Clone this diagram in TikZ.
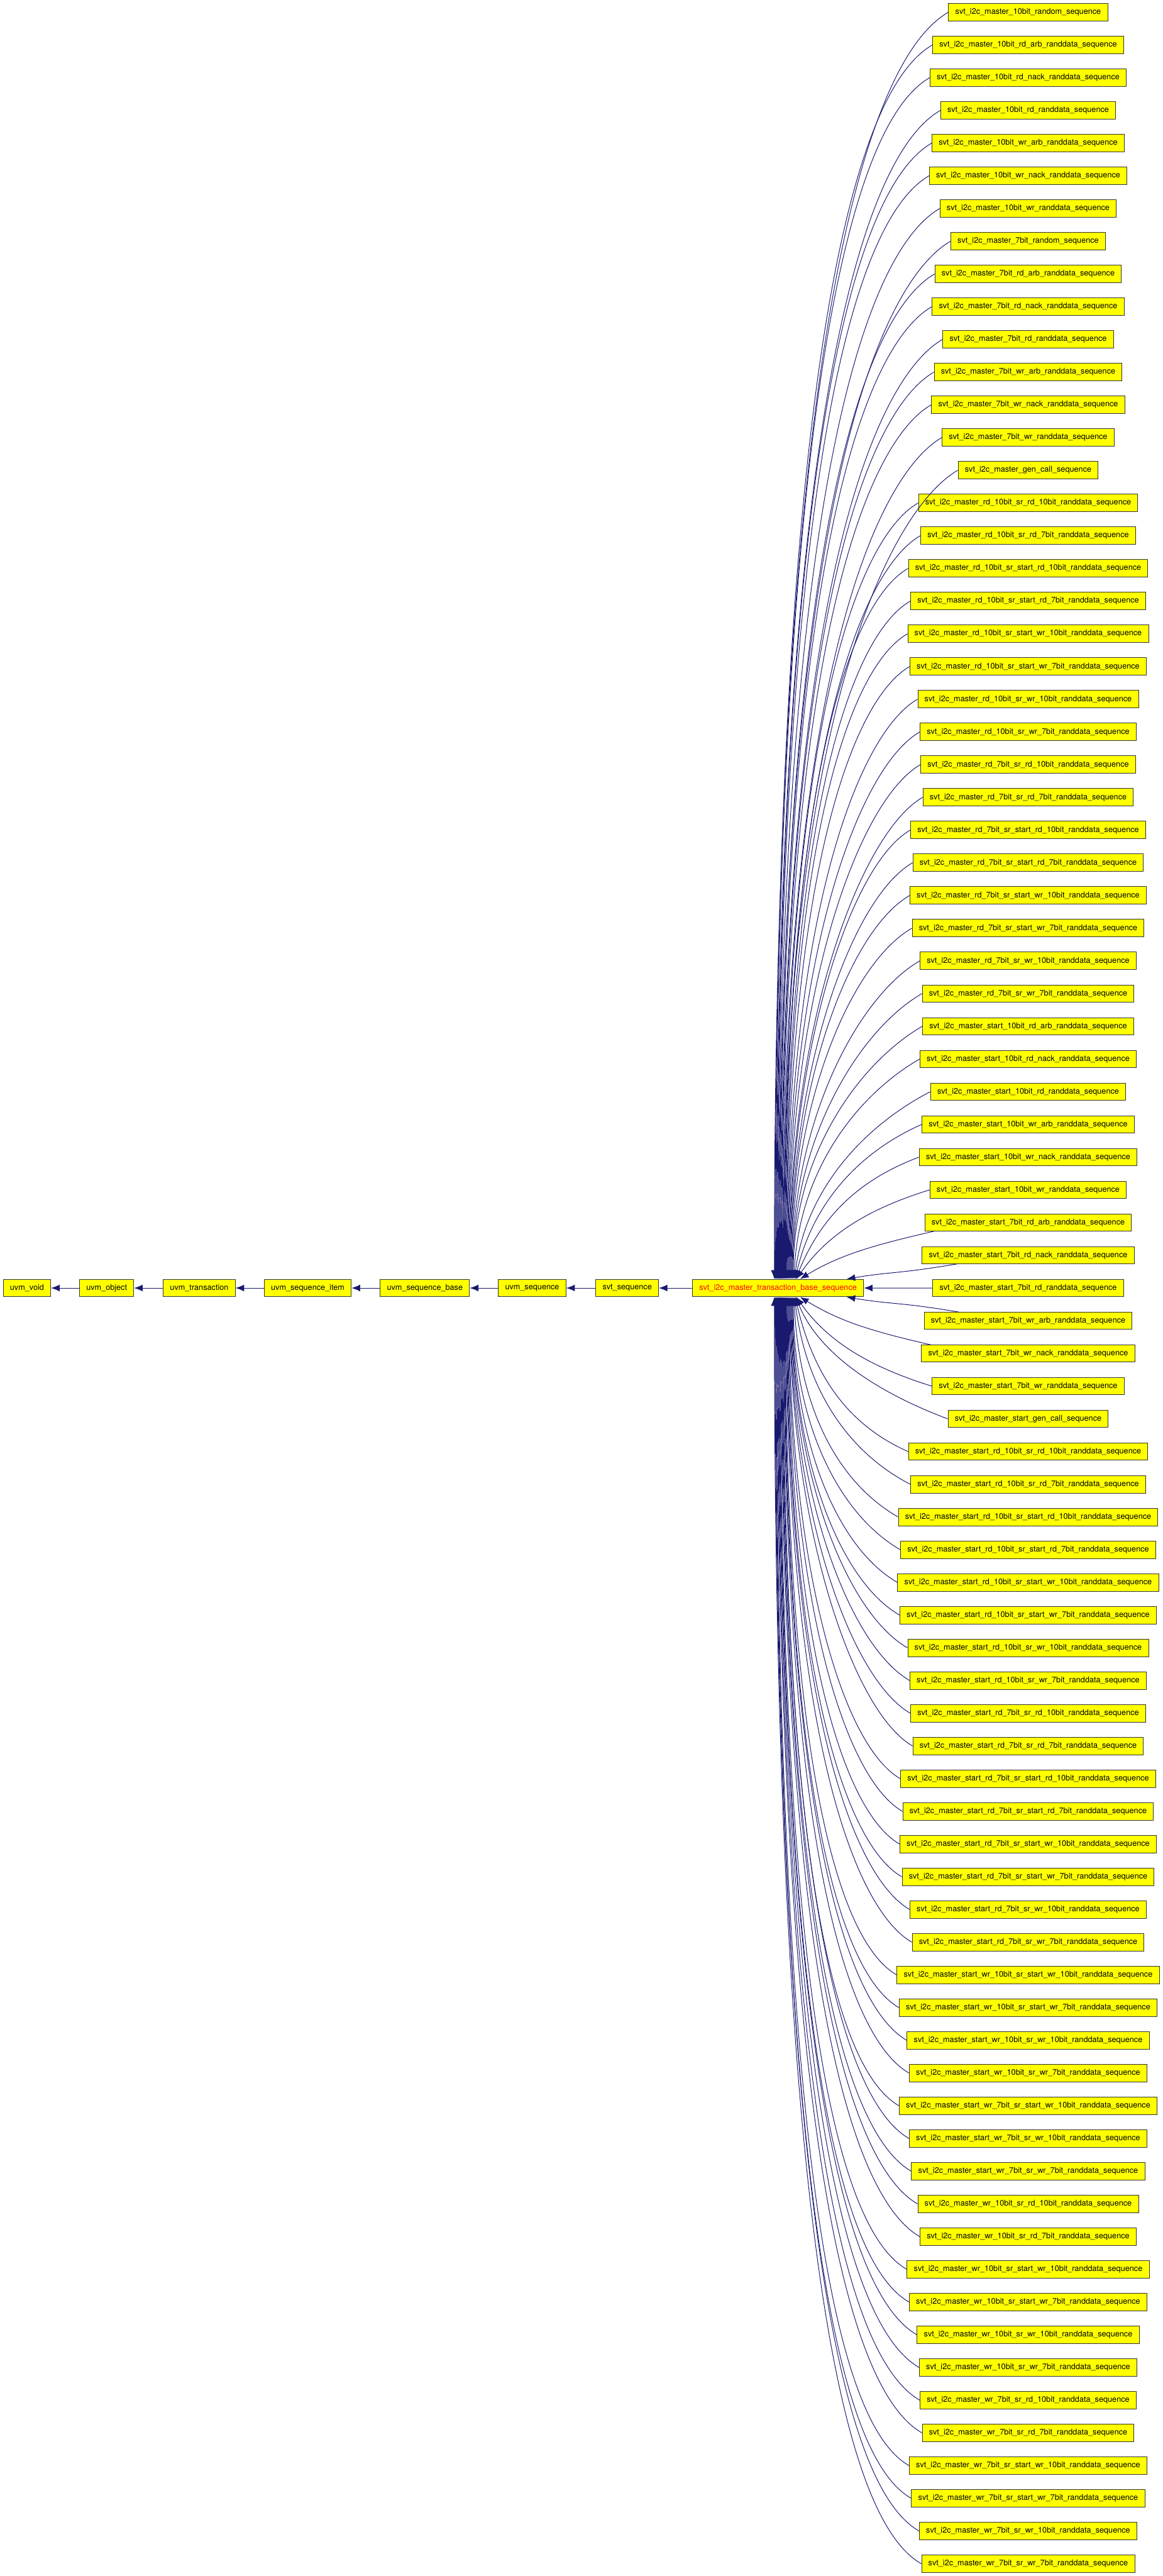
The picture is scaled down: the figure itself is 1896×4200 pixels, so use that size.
\documentclass[tikz,border=0pt]{standalone}
\usepackage{fontspec}
\setmainfont{TeX Gyre Heros}
\usetikzlibrary{arrows.meta,calc,positioning}

\definecolor{clsfill}{HTML}{FFFF00}
\definecolor{inhblue}{HTML}{191970}

\tikzset{
  cls/.style={draw=black!80, fill=clsfill, line width=1pt, inner xsep=11pt, inner ysep=0pt,
    minimum height=28.5pt, font=\fontsize{13}{15}\selectfont},
  inh/.style={draw=inhblue, line width=1pt, -{Latex[length=14pt,width=11pt]}},
}

\begin{document}
\begin{tikzpicture}[x=1pt,y=1pt]
  \useasboundingbox (0,0) rectangle (1896,-4200);

  % base chain, parents on the left
  \node[cls] (uvoid)   at (44,-2100)   {uvm\_void};
  \node[cls] (uobject) at (174,-2100)  {uvm\_object};
  \node[cls] (utrans)  at (325,-2100)  {uvm\_transaction};
  \node[cls] (uitem)   at (502,-2100)  {uvm\_sequence\_item};
  \node[cls] (ubase)   at (693,-2100)  {uvm\_sequence\_base};
  \node[cls] (useq)    at (868,-2100)  {uvm\_sequence};
  \node[cls] (svtseq)  at (1023,-2100) {svt\_sequence};
  \node[cls,text=red] (base) at (1269,-2100) {svt\_i2c\_master\_transaction\_base\_sequence};

  \draw[inh] (uobject) -- (uvoid);
  \draw[inh] (utrans) -- (uobject);
  \draw[inh] (uitem) -- (utrans);
  \draw[inh] (ubase) -- (uitem);
  \draw[inh] (useq) -- (ubase);
  \draw[inh] (svtseq) -- (useq);
  \draw[inh] (base) -- (svtseq);

  % derived sequences: one row every 53.333, row 40 level with base
  \foreach \nm [count=\i] in {10bit\_random\_sequence,
      10bit\_rd\_arb\_randdata\_sequence,
      10bit\_rd\_nack\_randdata\_sequence,
      10bit\_rd\_randdata\_sequence,
      10bit\_wr\_arb\_randdata\_sequence,
      10bit\_wr\_nack\_randdata\_sequence,
      10bit\_wr\_randdata\_sequence,
      7bit\_random\_sequence,
      7bit\_rd\_arb\_randdata\_sequence,
      7bit\_rd\_nack\_randdata\_sequence,
      7bit\_rd\_randdata\_sequence,
      7bit\_wr\_arb\_randdata\_sequence,
      7bit\_wr\_nack\_randdata\_sequence,
      7bit\_wr\_randdata\_sequence,
      gen\_call\_sequence,
      rd\_10bit\_sr\_rd\_10bit\_randdata\_sequence,
      rd\_10bit\_sr\_rd\_7bit\_randdata\_sequence,
      rd\_10bit\_sr\_start\_rd\_10bit\_randdata\_sequence,
      rd\_10bit\_sr\_start\_rd\_7bit\_randdata\_sequence,
      rd\_10bit\_sr\_start\_wr\_10bit\_randdata\_sequence,
      rd\_10bit\_sr\_start\_wr\_7bit\_randdata\_sequence,
      rd\_10bit\_sr\_wr\_10bit\_randdata\_sequence,
      rd\_10bit\_sr\_wr\_7bit\_randdata\_sequence,
      rd\_7bit\_sr\_rd\_10bit\_randdata\_sequence,
      rd\_7bit\_sr\_rd\_7bit\_randdata\_sequence,
      rd\_7bit\_sr\_start\_rd\_10bit\_randdata\_sequence,
      rd\_7bit\_sr\_start\_rd\_7bit\_randdata\_sequence,
      rd\_7bit\_sr\_start\_wr\_10bit\_randdata\_sequence,
      rd\_7bit\_sr\_start\_wr\_7bit\_randdata\_sequence,
      rd\_7bit\_sr\_wr\_10bit\_randdata\_sequence,
      rd\_7bit\_sr\_wr\_7bit\_randdata\_sequence,
      start\_10bit\_rd\_arb\_randdata\_sequence,
      start\_10bit\_rd\_nack\_randdata\_sequence,
      start\_10bit\_rd\_randdata\_sequence,
      start\_10bit\_wr\_arb\_randdata\_sequence,
      start\_10bit\_wr\_nack\_randdata\_sequence,
      start\_10bit\_wr\_randdata\_sequence,
      start\_7bit\_rd\_arb\_randdata\_sequence,
      start\_7bit\_rd\_nack\_randdata\_sequence,
      start\_7bit\_rd\_randdata\_sequence,
      start\_7bit\_wr\_arb\_randdata\_sequence,
      start\_7bit\_wr\_nack\_randdata\_sequence,
      start\_7bit\_wr\_randdata\_sequence,
      start\_gen\_call\_sequence,
      start\_rd\_10bit\_sr\_rd\_10bit\_randdata\_sequence,
      start\_rd\_10bit\_sr\_rd\_7bit\_randdata\_sequence,
      start\_rd\_10bit\_sr\_start\_rd\_10bit\_randdata\_sequence,
      start\_rd\_10bit\_sr\_start\_rd\_7bit\_randdata\_sequence,
      start\_rd\_10bit\_sr\_start\_wr\_10bit\_randdata\_sequence,
      start\_rd\_10bit\_sr\_start\_wr\_7bit\_randdata\_sequence,
      start\_rd\_10bit\_sr\_wr\_10bit\_randdata\_sequence,
      start\_rd\_10bit\_sr\_wr\_7bit\_randdata\_sequence,
      start\_rd\_7bit\_sr\_rd\_10bit\_randdata\_sequence,
      start\_rd\_7bit\_sr\_rd\_7bit\_randdata\_sequence,
      start\_rd\_7bit\_sr\_start\_rd\_10bit\_randdata\_sequence,
      start\_rd\_7bit\_sr\_start\_rd\_7bit\_randdata\_sequence,
      start\_rd\_7bit\_sr\_start\_wr\_10bit\_randdata\_sequence,
      start\_rd\_7bit\_sr\_start\_wr\_7bit\_randdata\_sequence,
      start\_rd\_7bit\_sr\_wr\_10bit\_randdata\_sequence,
      start\_rd\_7bit\_sr\_wr\_7bit\_randdata\_sequence,
      start\_wr\_10bit\_sr\_start\_wr\_10bit\_randdata\_sequence,
      start\_wr\_10bit\_sr\_start\_wr\_7bit\_randdata\_sequence,
      start\_wr\_10bit\_sr\_wr\_10bit\_randdata\_sequence,
      start\_wr\_10bit\_sr\_wr\_7bit\_randdata\_sequence,
      start\_wr\_7bit\_sr\_start\_wr\_10bit\_randdata\_sequence,
      start\_wr\_7bit\_sr\_wr\_10bit\_randdata\_sequence,
      start\_wr\_7bit\_sr\_wr\_7bit\_randdata\_sequence,
      wr\_10bit\_sr\_rd\_10bit\_randdata\_sequence,
      wr\_10bit\_sr\_rd\_7bit\_randdata\_sequence,
      wr\_10bit\_sr\_start\_wr\_10bit\_randdata\_sequence,
      wr\_10bit\_sr\_start\_wr\_7bit\_randdata\_sequence,
      wr\_10bit\_sr\_wr\_10bit\_randdata\_sequence,
      wr\_10bit\_sr\_wr\_7bit\_randdata\_sequence,
      wr\_7bit\_sr\_rd\_10bit\_randdata\_sequence,
      wr\_7bit\_sr\_rd\_7bit\_randdata\_sequence,
      wr\_7bit\_sr\_start\_wr\_10bit\_randdata\_sequence,
      wr\_7bit\_sr\_start\_wr\_7bit\_randdata\_sequence,
      wr\_7bit\_sr\_wr\_10bit\_randdata\_sequence,
      wr\_7bit\_sr\_wr\_7bit\_randdata\_sequence} {
    \node[cls] (s\i) at (1677,{-20-(\i-1)*53.333}) {svt\_i2c\_master\_\nm};
  }

  % inheritance edges into base: rows above land on its top, rows below on its bottom
  \foreach \i in {1,...,79} {
    \ifnum\i=40
      \draw[inh] (s40) -- (base);
    \else
      \ifnum\i<40 \def\side{north}\def\sgn{1}\else \def\side{south}\def\sgn{-1}\fi
      \pgfmathtruncatemacro{\jj}{\i<40 ? \i : 80-\i}
      \pgfmathsetmacro{\endx}{\jj<38 ? \jj-7 : (\jj==38 ? 36 : 112)}
      \pgfmathsetmacro{\sx}{\jj==38 ? 16 : (\jj==39 ? 58 : 0)}
      \pgfmathsetmacro{\sy}{\jj>37 ? 14 : 0}
      \pgfmathsetmacro{\ys}{-\sy*\sgn}
      \pgfmathsetmacro{\dv}{abs(20+(\i-1)*53.333-2100)-14.5-\sy}
      \pgfmathsetmacro{\ang}{min(30,8+0.0629*\dv)}
      \pgfmathsetmacro{\cy}{-100*tan(\ang)*\sgn}
      \pgfmathsetmacro{\cx}{max(0,80-0.2*\dv)}
      \pgfmathsetmacro{\cm}{(\dv-min(0.5*\dv,366))*\sgn}
      \draw[inh] ([xshift=\sx pt,yshift=\ys pt]s\i.west)
        .. controls +(-100,\cy) and +(\cx,\cm) .. ([xshift=\endx pt]base.\side);
    \fi
  }
\end{tikzpicture}
\end{document}
